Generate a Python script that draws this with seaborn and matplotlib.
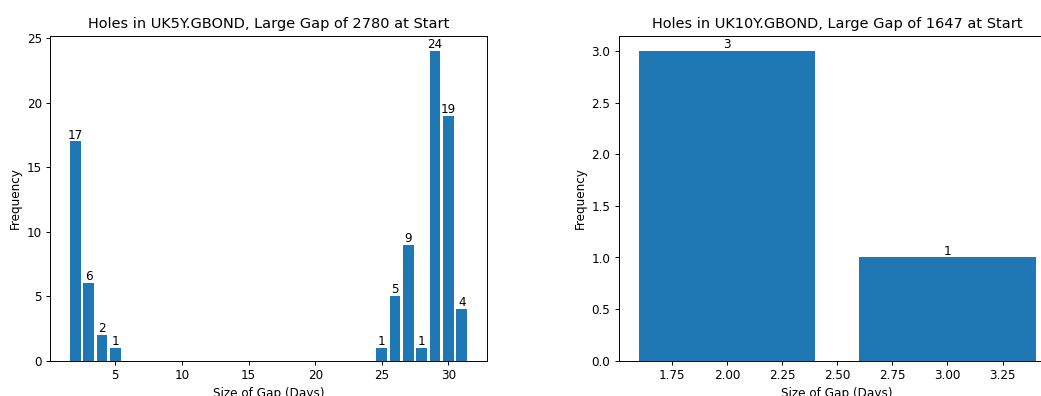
import matplotlib
matplotlib.use("Agg")
import matplotlib.pyplot as plt
import seaborn as sns
import pandas as pd

# Gap sizes (days) and how often each occurs
uk5y_gap_days = [2, 3, 4, 5, 25, 26, 27, 28, 29, 30, 31]
uk5y_counts = [17, 6, 2, 1, 1, 5, 9, 1, 24, 19, 4]
uk5y_title = "Holes in UK5Y.GBOND, Large Gap of 2780 at Start"

uk10y_gap_days = [2, 3]
uk10y_counts = [3, 1]
uk10y_title = "Holes in UK10Y.GBOND, Large Gap of 1647 at Start"

DPI = 86.833
fig = plt.figure(figsize=(12, 4.562), dpi=DPI)
ax_left = fig.add_axes([0.0482, 0.0891, 0.4191, 0.8207])
ax_right = fig.add_axes([0.5939, 0.0891, 0.4191, 0.8207])

panels = [
    (ax_left, uk5y_gap_days, uk5y_counts, uk5y_title),
    (ax_right, uk10y_gap_days, uk10y_counts, uk10y_title),
]

for ax, days, counts, title in panels:
    df = pd.DataFrame({"gap": days, "freq": counts})
    sns.barplot(data=df, x="gap", y="freq", native_scale=True,
                errorbar=None, color="#1f77b4", saturation=1, ax=ax)
    ax.bar_label(ax.containers[0], fontsize=10)
    ax.set_title(title, fontsize=12)
    ax.set_xlabel("Size of Gap (Days)")
    ax.set_ylabel("Frequency")

fig.savefig("out.png", dpi=DPI)
